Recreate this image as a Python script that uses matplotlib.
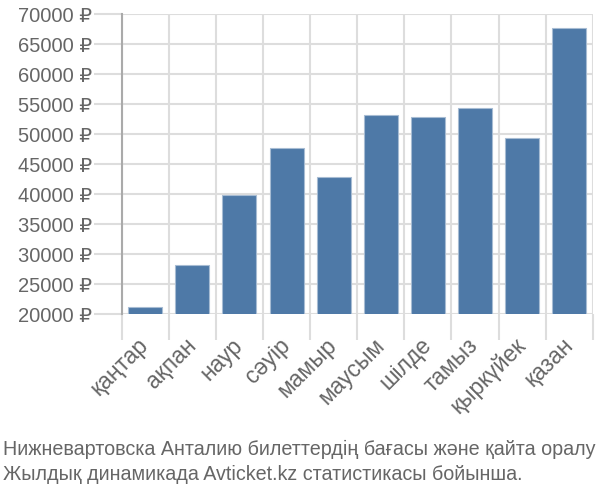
import matplotlib
matplotlib.use("Agg")
import matplotlib.pyplot as plt
from matplotlib.ticker import FuncFormatter, FixedLocator

plt.rcParams['font.family'] = ['Liberation Sans', 'DejaVu Sans']

# months (Kazakh) and average ticket price, rubles
months = ["қаңтар", "ақпан", "наур", "сәуір", "мамыр", "маусым",
          "шілде", "тамыз", "қыркүйек", "қазан"]
prices = [21200, 28100, 39800, 47700, 42900, 53200, 52900, 54300, 49300, 67600]

y_ticks = list(range(20000, 70001, 5000))
caption = ["Нижневартовска Анталию билеттердің бағасы және қайта оралу",
           "Жылдық динамикада Avticket.kz статистикасы бойынша."]

grid_c = "#dddddd"
text_c = "#666666"

fig = plt.figure(figsize=(6, 5), dpi=100)
ax = fig.add_axes([0.2028, 0.372, 0.7852, 0.6])

x = list(range(len(months)))
ax.bar(x, prices, width=0.72, bottom=0, color="#4e79a7",
       edgecolor="#a7bcd3", linewidth=0.8, zorder=3)

ax.set_xlim(-0.5, len(months) - 0.5)
ax.set_ylim(20000, 70000)

# gridlines at category boundaries
bounds = [i - 0.5 for i in range(len(months) + 1)]
ax.xaxis.set_major_locator(FixedLocator(bounds))
ax.xaxis.set_major_formatter(FuncFormatter(lambda v, p: ""))
ax.xaxis.set_minor_locator(FixedLocator(x))
ax.set_xticklabels(months, minor=True, rotation=45, ha="right",
                   va="center", rotation_mode="anchor",
                   fontsize=16.5, color=text_c)
ax.tick_params(axis="x", which="minor", length=0, pad=20)
ax.tick_params(axis="x", which="major", length=19, width=1.5, color=grid_c)

ax.set_yticks(y_ticks)
ax.yaxis.set_major_formatter(FuncFormatter(lambda v, p: f"{int(v)} ₽"))
ax.tick_params(axis="y", length=20, width=1.5, color=grid_c,
               labelsize=14.5, labelcolor=text_c, pad=1)

ax.grid(True, which="major", color=grid_c, linewidth=1.5, zorder=0)
ax.set_axisbelow(True)

for s in ["top", "right", "bottom"]:
    ax.spines[s].set_visible(False)
ax.spines["left"].set_color("#aaaaaa")
ax.spines["left"].set_linewidth(1.5)
ax.xaxis.get_major_ticks()[0].tick1line.set_color("#aaaaaa")

fig.text(0.005, 0.09, caption[0], fontsize=14.2, color=text_c,
         ha="left", va="baseline")
fig.text(0.005, 0.04, caption[1], fontsize=14.2, color=text_c,
         ha="left", va="baseline")

fig.savefig("out.png", dpi=100)
